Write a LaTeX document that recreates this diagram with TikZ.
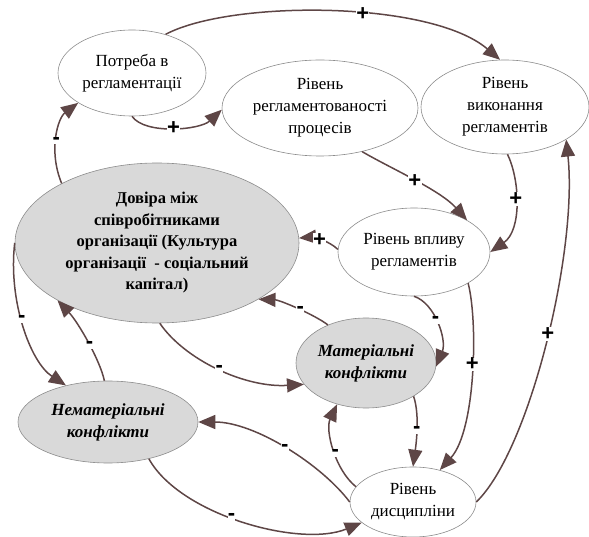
\documentclass[tikz,border=0pt]{standalone}
\usepackage{fontspec}
\setmainfont{Liberation Serif}
\newfontfamily\lab{Liberation Sans}
\usetikzlibrary{shapes.geometric,arrows.meta}
\definecolor{edgebrown}{RGB}{94,70,70}
\definecolor{bordergray}{RGB}{140,140,140}
\definecolor{bubgray}{RGB}{217,217,217}
\tikzset{
  bub/.style={ellipse, draw=bordergray, line width=0.6pt, fill=white, inner sep=0pt, align=center, font=\fontsize{17}{22}\selectfont},
  gbub/.style={bub, fill=bubgray},
  edge/.style={draw=edgebrown, line width=1.5pt, -{Triangle[length=17pt,width=14pt]}},
  sgn/.style={font=\lab\bfseries\fontsize{22}{22}\selectfont, fill=white, inner sep=0.3pt, text=black},
}
\begin{document}
\begin{tikzpicture}[x=1pt,y=-1pt]
\useasboundingbox (0,0) rectangle (589,537);
\node[bub, minimum width=148pt, minimum height=86pt] (P) at (132,73) {Потреба в\\регламентації};
\node[bub, minimum width=196pt, minimum height=96pt] (R) at (320,108) {Рівень\\регламентованості\\процесів};
\node[bub, minimum width=168pt, minimum height=94pt] (V) at (505,107) {Рівень\\виконання\\регламентів};
\node[gbub, minimum width=284pt, minimum height=160pt, font=\bfseries\fontsize{16.5}{21.5}\selectfont] (D) at (157,243) {Довіра між\\співробітниками\\організації (Культура\\організації \ - соціальний\\капітал)};
\node[bub, minimum width=152pt, minimum height=88pt] (W) at (414,252) {Рівень впливу\\регламентів};
\node[gbub, minimum width=140pt, minimum height=90pt, font=\bfseries\itshape\fontsize{17}{22}\selectfont] (M) at (366,363) {Матеріальні\\конфлікти};
\node[gbub, minimum width=180pt, minimum height=82pt, font=\bfseries\itshape\fontsize{17}{22}\selectfont] (N) at (108,422) {Нематеріальні\\конфлікти};
\node[bub, minimum width=126pt, minimum height=70pt] (S) at (413,502) {Рівень\\дисципліни};

\draw[edge] (P.49) .. controls (230,0) and (430,0) .. (V.96) node[sgn, pos=0.58] (la) {+};
\draw[edge] (P.-90) .. controls (145,135) and (200,130) .. (R.181) node[sgn, pos=0.5] (lb) {+};
\draw[edge] (R.-46) .. controls (390,168) and (440,190) .. (W.31) node[sgn, pos=0.5] (lc) {+};
\draw[edge] (V.-87) .. controls (520,180) and (522,230) .. (W.0) node[sgn, pos=0.45] (ld) {+};
\draw[edge] (W.178) .. controls (328,240) and (312,237) .. (D.2) node[sgn, pos=0.5] (le) {+};
\draw[edge] (D.148) .. controls (48,150) and (58,118) .. (P.209) node[sgn, pos=0.45] (lf) {-};
\draw[edge] (S.0) .. controls (530,450) and (578,250) .. (V.-28) node[sgn, pos=0.52] (lg) {+};
\draw[edge] (M.135) .. controls (315,315) and (280,300) .. (D.-29) node[sgn, pos=0.45] (lh) {-};
\draw[edge] (D.-88) .. controls (185,360) and (245,388) .. (M.199) node[sgn, pos=0.5] (li) {-};
\draw[edge] (W.-90) .. controls (435,303) and (447,340) .. (M.-3) node[sgn, pos=0.45] (lj) {-};
\draw[edge] (W.-30) .. controls (478,320) and (476,430) .. (S.50) node[sgn, pos=0.45] (lk) {+};
\draw[edge] (M.-35) .. controls (420,415) and (416,445) .. (S.90) node[sgn, pos=0.5] (ll) {-};
\draw[edge] (S.165) .. controls (335,470) and (325,430) .. (M.235) node[sgn, pos=0.45] (lm) {-};
\draw[edge] (S.180) .. controls (322,465) and (255,422) .. (N.0) node[sgn, pos=0.5] (ln) {-};
\draw[edge] (N.-42) .. controls (180,515) and (300,548) .. (S.202) node[sgn, pos=0.45] (lo) {-};
\draw[edge] (D.180) .. controls (8,300) and (30,362) .. (N.139) node[sgn, pos=0.45] (lp) {-};
\draw[edge] (N.95) .. controls (100,360) and (78,322) .. (D.210) node[sgn, pos=0.45] (lq) {-};
\end{tikzpicture}
\end{document}
